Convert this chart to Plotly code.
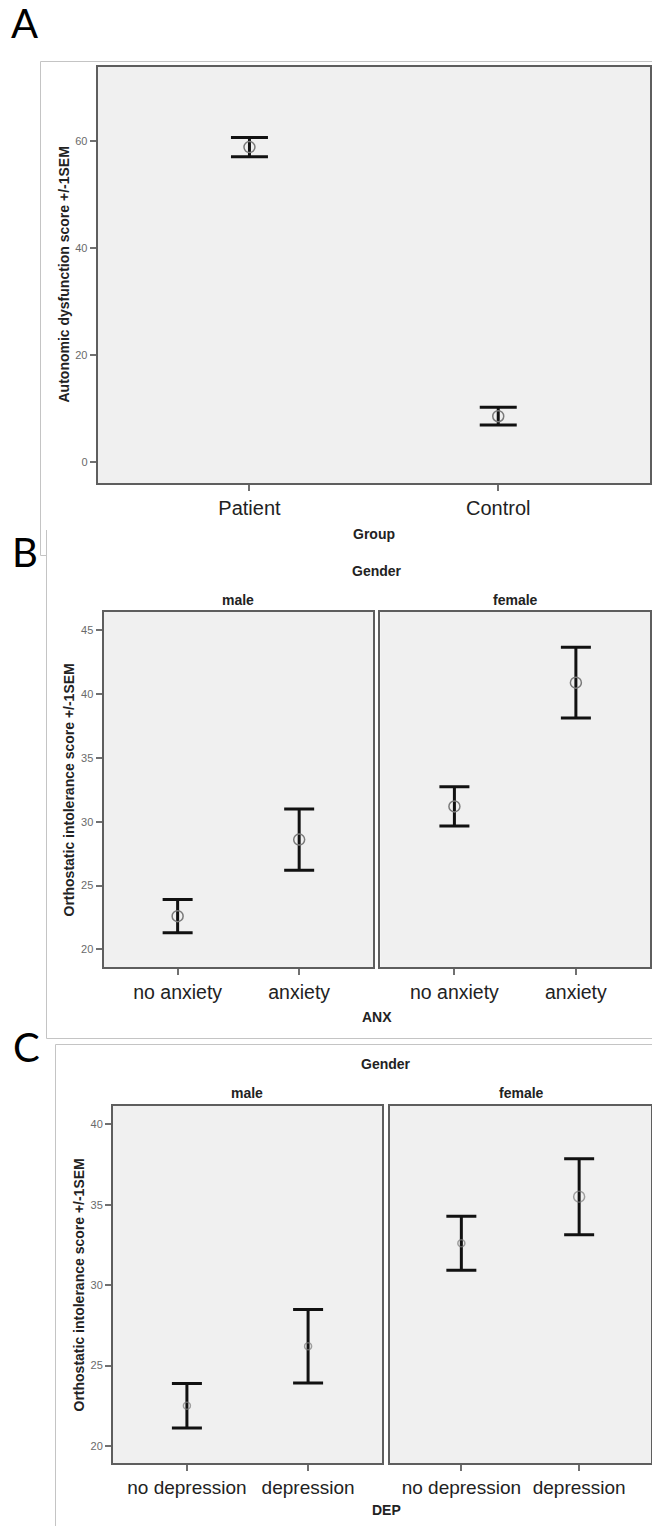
import plotly.graph_objects as go

# ---------------- data ----------------
groups = ["Patient", "Control"]
auto_mean = [58.8, 8.6]
auto_sem = [1.78, 1.65]

anx_cats = ["no anxiety", "anxiety"]
anx_male_mean = [22.6, 28.6]
anx_male_sem = [1.31, 2.40]
anx_female_mean = [31.2, 40.9]
anx_female_sem = [1.54, 2.77]

dep_cats = ["no depression", "depression"]
dep_male_mean = [22.5, 26.2]
dep_male_sem = [1.38, 2.29]
dep_female_mean = [32.6, 35.5]
dep_female_sem = [1.68, 2.36]

A_ticks = [0, 20, 40, 60]
B_ticks = [20, 25, 30, 35, 40, 45]
C_ticks = [20, 25, 30, 35, 40]

# ---------------- layout helpers ----------------
W, H = 652, 1526
def fx(px):
    return px / W
def fy(py):
    return 1 - py / H

FONT = "Liberation Sans, Arial, sans-serif"
BG = "#F0F0F0"
FRAME = "#5E5E5E"
TICKC = "#707070"

fig = go.Figure()

def add_err(xa, ya, cats, means, sems, cap, msize):
    fig.add_trace(go.Scatter(
        x=cats, y=means, mode="markers",
        xaxis=xa, yaxis=ya, showlegend=False, hoverinfo="x+y",
        marker=dict(symbol="circle-open", size=msize, color="#7A7A7A",
                    line=dict(width=1.5, color="#7A7A7A")),
        error_y=dict(type="data", array=sems, visible=True,
                     thickness=3, width=cap, color="#111111"),
    ))

add_err("x", "y", groups, auto_mean, auto_sem, 18.5, 11)
add_err("x2", "y2", anx_cats, anx_male_mean, anx_male_sem, 15, 11)
add_err("x3", "y3", anx_cats, anx_female_mean, anx_female_sem, 15, 11)
add_err("x4", "y4", dep_cats, dep_male_mean, dep_male_sem, 15, [7, 7])
add_err("x5", "y5", dep_cats, dep_female_mean, dep_female_sem, 15, [7, 11])

def xaxis(dom, anchor, cats, size):
    return dict(domain=[fx(dom[0]), fx(dom[1])], anchor=anchor,
                type="category", categoryorder="array", categoryarray=cats,
                range=[-0.61, 1.61], showgrid=False, zeroline=False,
                showline=True, linecolor=FRAME, linewidth=2, mirror=True,
                ticks="outside", ticklen=6, tickwidth=1.5, tickcolor=TICKC,
                tickfont=dict(family=FONT, size=size, color="#222222"),
                fixedrange=True)

def yaxis(dom, anchor, rng, ticks, labels=True):
    d = dict(domain=[fy(dom[1]), fy(dom[0])], anchor=anchor,
             range=rng, showgrid=False, zeroline=False,
             showline=True, linecolor=FRAME, linewidth=2, mirror=True,
             fixedrange=True)
    if labels:
        d.update(tickmode="array", tickvals=ticks, ticktext=[str(t) for t in ticks],
                 ticks="outside", ticklen=6, tickwidth=1.5, tickcolor=TICKC,
                 tickfont=dict(family=FONT, size=11, color="#6A6A6A"))
    else:
        d.update(showticklabels=False, ticks="")
    return d

A_rng = [-3.86, 73.8]
B_rng = [18.59, 46.44]
C_rng = [18.92, 41.14]

layout = dict(
    width=W, height=H, margin=dict(l=0, r=0, t=0, b=0),
    paper_bgcolor="white", plot_bgcolor=BG, showlegend=False,
    xaxis=xaxis((97.7, 650), "y", groups, 20),
    yaxis=yaxis((66.7, 483), "x", A_rng, A_ticks),
    xaxis2=xaxis((103.5, 373.3), "y2", anx_cats, 19.5),
    yaxis2=yaxis((612, 967.3), "x2", B_rng, B_ticks),
    xaxis3=xaxis((380.3, 650), "y3", anx_cats, 19.5),
    yaxis3=yaxis((612, 967.3), "x3", B_rng, B_ticks, labels=False),
    xaxis4=xaxis((113, 382), "y4", dep_cats, 19),
    yaxis4=yaxis((1106, 1463.3), "x4", C_rng, C_ticks),
    xaxis5=xaxis((389.5, 651), "y5", dep_cats, 19),
    yaxis5=yaxis((1106, 1463.3), "x5", C_rng, C_ticks, labels=False),
)
fig.update_layout(**layout)

# ---------------- annotations ----------------
ann = []
def text(t, x, y, size, bold=True, angle=0, family=FONT, color="#222222"):
    ann.append(dict(text=("<b>%s</b>" % t) if bold else t,
                    x=fx(x), y=fy(y), xref="paper", yref="paper",
                    xanchor="center", yanchor="middle", showarrow=False,
                    textangle=angle, font=dict(family=family, size=size, color=color)))

LETTER = "Lato, Open Sans, sans-serif"
text("A", 24, 23, 40, bold=False, family=LETTER, color="#000")
text("B", 25, 552, 40, bold=False, family=LETTER, color="#000")
text("C", 26, 1047, 40, bold=False, family=LETTER, color="#000")

text("Autonomic dysfunction score +/-1SEM", 63.5, 275, 14, angle=-90)
text("Group", 374, 534, 14)

text("Gender", 377, 571, 14)
text("male", 238.4, 600, 14)
text("female", 515, 600, 14)
text("Orthostatic intolerance score +/-1SEM", 68.5, 790, 14, angle=-90)
text("ANX", 377, 1017, 14)

text("Gender", 386, 1064, 14)
text("male", 247.5, 1093, 14)
text("female", 521, 1093, 14)
text("Orthostatic intolerance score +/-1SEM", 78.5, 1285, 14, angle=-90)
text("DEP", 386, 1510, 14)

fig.update_layout(annotations=ann)

# ---------------- panel outlines ----------------
def path(pts):
    s = "M %f %f" % (fx(pts[0][0]), fy(pts[0][1]))
    for p in pts[1:]:
        s += " L %f %f" % (fx(p[0]), fy(p[1]))
    return s

GRAYLINE = dict(color="#C4C4C4", width=1)
shapes = [
    dict(type="path", xref="paper", yref="paper", line=GRAYLINE,
         path=path([(40.5, 555.5), (40.5, 61.5), (660, 61.5)])),
    dict(type="path", xref="paper", yref="paper", line=GRAYLINE,
         path=path([(40.5, 555.5), (46.5, 555.5), (46.5, 1038.5), (660, 1038.5)])),
    dict(type="path", xref="paper", yref="paper", line=GRAYLINE,
         path=path([(46.5, 530), (46.5, 556)])),
    dict(type="path", xref="paper", yref="paper", line=GRAYLINE,
         path=path([(55.5, 1530), (55.5, 1044.5), (660, 1044.5)])),
]
fig.update_layout(shapes=shapes)

fig.write_html("out.html")
